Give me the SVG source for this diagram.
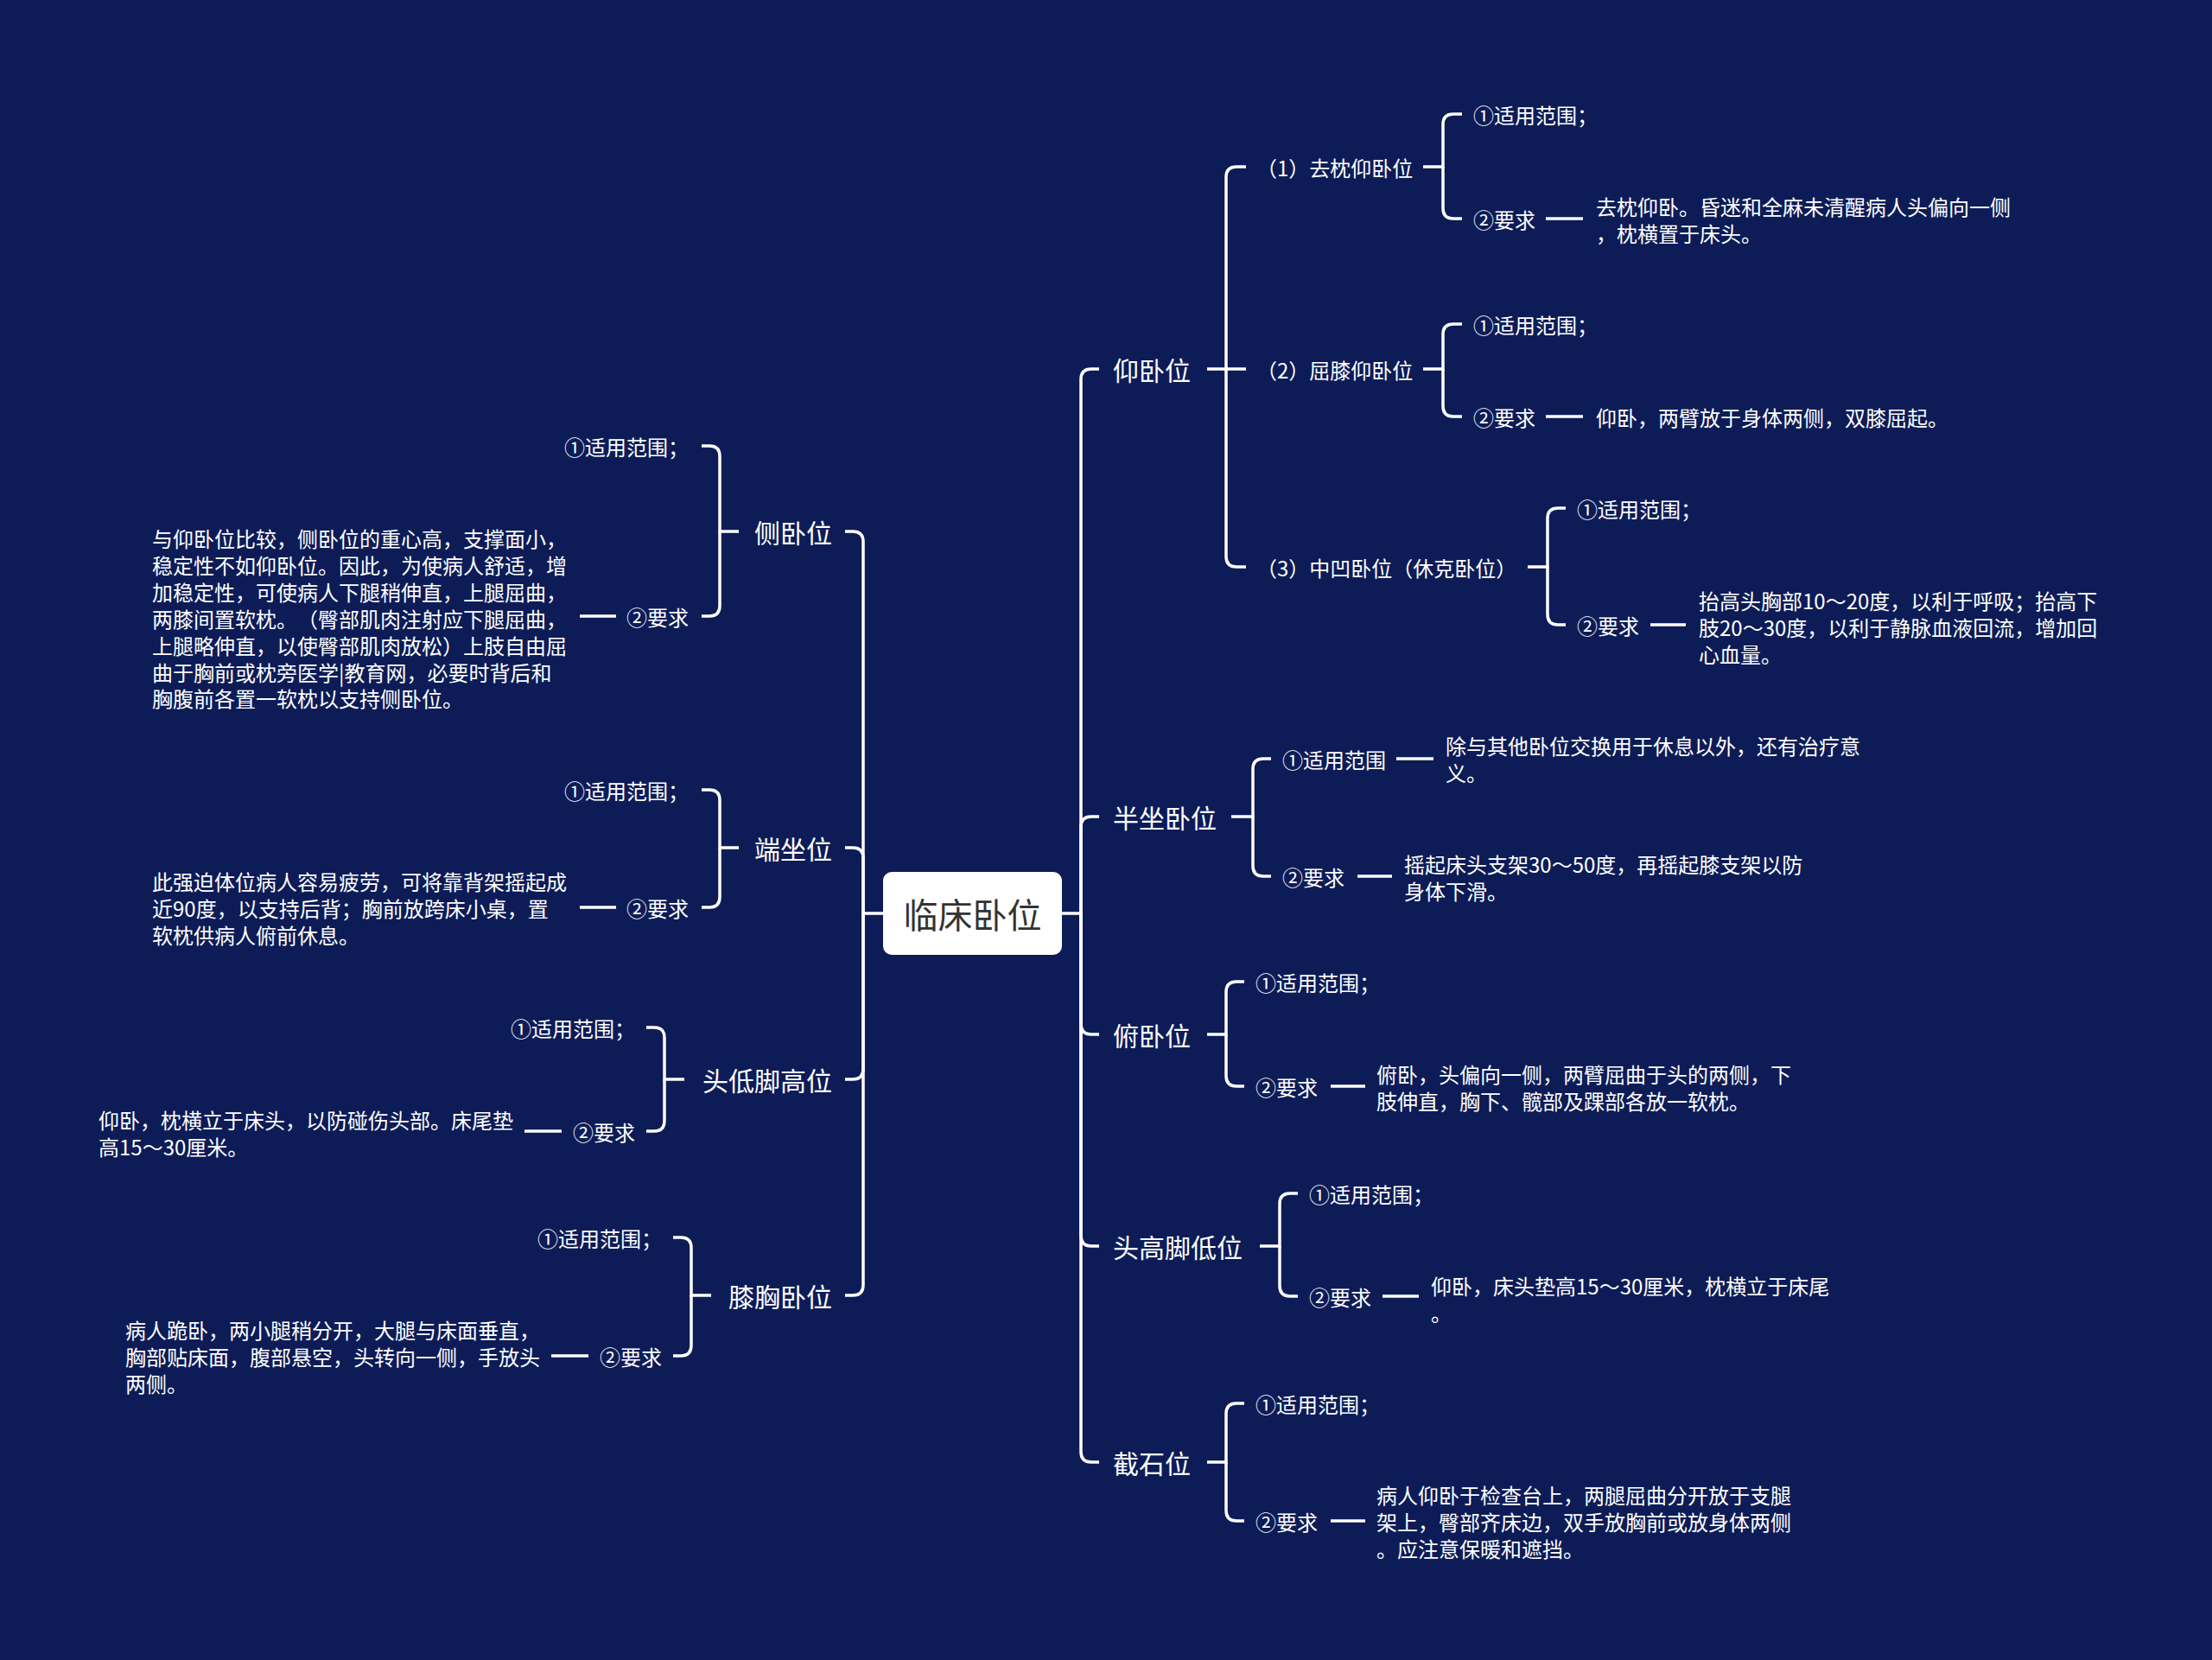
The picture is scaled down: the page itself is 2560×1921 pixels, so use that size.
<svg xmlns="http://www.w3.org/2000/svg" width="2560" height="1921" viewBox="0 0 2560 1921">
<style>
text{font-family:"Noto Sans CJK SC","Microsoft YaHei",sans-serif;fill:#ffffff;dominant-baseline:central;text-spacing-trim:space-all}
.l1{font-size:30px}
.s{font-size:24px}
.e{text-anchor:end}
.root{font-size:40px;fill:#333333;text-anchor:middle}
.c path{fill:none;stroke:#ffffff;stroke-width:3.5;stroke-linecap:butt}
</style>
<rect x="0" y="0" width="2560" height="1921" fill="#0d1c57"/>
<g class="c" id="connectors">
<path d="M1229,1057 H1251 V439 Q1251,427 1263,427 H1272"/>
<path d="M1251,1057 V957 Q1251,945 1263,945 H1272"/>
<path d="M1251,1057 V1185 Q1251,1197 1263,1197 H1272"/>
<path d="M1251,1057 V1430 Q1251,1442 1263,1442 H1272"/>
<path d="M1251,1057 V1680 Q1251,1692 1263,1692 H1272"/>
<path d="M1022,1057 H999 V627 Q999,615 987,615 H978"/>
<path d="M999,1057 V993 Q999,981 987,981 H978"/>
<path d="M999,1057 V1237 Q999,1249 987,1249 H978"/>
<path d="M999,1057 V1487 Q999,1499 987,1499 H978"/>
<path d="M1397,427 H1419 V205 Q1419,193 1431,193 H1442"/>
<path d="M1419,427 H1442"/>
<path d="M1419,427 V644 Q1419,656 1431,656 H1442"/>
<path d="M1647,193 H1670 V144 Q1670,132 1682,132 H1692"/>
<path d="M1670,193 V241 Q1670,253 1682,253 H1692"/>
<path d="M1789,253 H1832"/>
<path d="M1647,427 H1670 V387 Q1670,375 1682,375 H1692"/>
<path d="M1670,427 V470 Q1670,482 1682,482 H1692"/>
<path d="M1789,482 H1832"/>
<path d="M1768,656 H1791 V600 Q1791,588 1803,588 H1812"/>
<path d="M1791,656 V711 Q1791,723 1803,723 H1812"/>
<path d="M1910,723 H1951"/>
<path d="M1425,945 H1450 V890 Q1450,878 1462,878 H1471"/>
<path d="M1450,945 V1002 Q1450,1014 1462,1014 H1471"/>
<path d="M1616,878 H1659"/>
<path d="M1571,1014 H1611"/>
<path d="M1397,1197 H1419 V1148 Q1419,1136 1431,1136 H1440"/>
<path d="M1419,1197 V1245 Q1419,1257 1431,1257 H1440"/>
<path d="M1540,1257 H1580"/>
<path d="M1458,1442 H1481 V1393 Q1481,1381 1493,1381 H1502"/>
<path d="M1481,1442 V1488 Q1481,1500 1493,1500 H1502"/>
<path d="M1600,1500 H1642"/>
<path d="M1397,1692 H1419 V1636 Q1419,1624 1431,1624 H1440"/>
<path d="M1419,1692 V1748 Q1419,1760 1431,1760 H1440"/>
<path d="M1540,1760 H1580"/>
<path d="M855,615 H833 V528 Q833,516 821,516 H812"/>
<path d="M833,615 V701 Q833,713 821,713 H812"/>
<path d="M671,713 H713"/>
<path d="M855,981 H833 V926 Q833,914 821,914 H812"/>
<path d="M833,981 V1038 Q833,1050 821,1050 H812"/>
<path d="M671,1050 H713"/>
<path d="M792,1249 H769 V1201 Q769,1189 757,1189 H748"/>
<path d="M769,1249 V1297 Q769,1309 757,1309 H748"/>
<path d="M607,1309 H650"/>
<path d="M823,1499 H800 V1444 Q800,1432 788,1432 H779"/>
<path d="M800,1499 V1557 Q800,1569 788,1569 H779"/>
<path d="M638,1569 H681"/>
</g>
<g id="root"><rect x="1022" y="1009" width="207" height="96" rx="10" fill="#ffffff"/><text class="root" x="1125.5" y="1057">临床卧位</text></g>
<g id="n-yangwo"><text class="l1" x="1288" y="427">仰卧位</text></g>
<g id="n-qz"><text class="s" x="1454" y="193">（1）去枕仰卧位</text></g>
<g id="n-qz-1"><text class="s" x="1705" y="132">①适用范围；</text></g>
<g id="n-qz-2"><text class="s" x="1705" y="253">②要求</text></g>
<g id="n-qz-2d"><text class="s" x="1847" y="238">去枕仰卧。昏迷和全麻未清醒病人头偏向一侧</text><text class="s" x="1847" y="269">，枕横置于床头。</text></g>
<g id="n-qx"><text class="s" x="1454" y="427">（2）屈膝仰卧位</text></g>
<g id="n-qx-1"><text class="s" x="1705" y="375">①适用范围；</text></g>
<g id="n-qx-2"><text class="s" x="1705" y="482">②要求</text></g>
<g id="n-qx-2d"><text class="s" x="1847" y="482">仰卧，两臂放于身体两侧，双膝屈起。</text></g>
<g id="n-za"><text class="s" x="1454" y="656">（3）中凹卧位（休克卧位）</text></g>
<g id="n-za-1"><text class="s" x="1825" y="588">①适用范围；</text></g>
<g id="n-za-2"><text class="s" x="1825" y="723">②要求</text></g>
<g id="n-za-2d"><text class="s" x="1966" y="694">抬高头胸部10～20度，以利于呼吸；抬高下</text><text class="s" x="1966" y="725">肢20～30度，以利于静脉血液回流，增加回</text><text class="s" x="1966" y="756">心血量。</text></g>
<g id="n-bz"><text class="l1" x="1288" y="945">半坐卧位</text></g>
<g id="n-bz-1"><text class="s" x="1484" y="878">①适用范围</text></g>
<g id="n-bz-1d"><text class="s" x="1673" y="862">除与其他卧位交换用于休息以外，还有治疗意</text><text class="s" x="1673" y="893">义。</text></g>
<g id="n-bz-2"><text class="s" x="1484" y="1014">②要求</text></g>
<g id="n-bz-2d"><text class="s" x="1625" y="999">摇起床头支架30～50度，再摇起膝支架以防</text><text class="s" x="1625" y="1030">身体下滑。</text></g>
<g id="n-fw"><text class="l1" x="1288" y="1197">俯卧位</text></g>
<g id="n-fw-1"><text class="s" x="1453" y="1136">①适用范围；</text></g>
<g id="n-fw-2"><text class="s" x="1453" y="1257">②要求</text></g>
<g id="n-fw-2d"><text class="s" x="1593" y="1242">俯卧，头偏向一侧，两臂屈曲于头的两侧，下</text><text class="s" x="1593" y="1273">肢伸直，胸下、髋部及踝部各放一软枕。</text></g>
<g id="n-tg"><text class="l1" x="1288" y="1442">头高脚低位</text></g>
<g id="n-tg-1"><text class="s" x="1515" y="1381">①适用范围；</text></g>
<g id="n-tg-2"><text class="s" x="1515" y="1500">②要求</text></g>
<g id="n-tg-2d"><text class="s" x="1656" y="1487">仰卧，床头垫高15～30厘米，枕横立于床尾</text><text class="s" x="1656" y="1518">。</text></g>
<g id="n-js"><text class="l1" x="1288" y="1692">截石位</text></g>
<g id="n-js-1"><text class="s" x="1453" y="1624">①适用范围；</text></g>
<g id="n-js-2"><text class="s" x="1453" y="1760">②要求</text></g>
<g id="n-js-2d"><text class="s" x="1593" y="1729">病人仰卧于检查台上，两腿屈曲分开放于支腿</text><text class="s" x="1593" y="1760">架上，臀部齐床边，双手放胸前或放身体两侧</text><text class="s" x="1593" y="1791">。应注意保暖和遮挡。</text></g>
<g id="n-cw"><text class="l1 e" x="963" y="615">侧卧位</text></g>
<g id="n-cw-1"><text class="s e" x="797" y="516">①适用范围；</text></g>
<g id="n-cw-2"><text class="s e" x="797" y="713">②要求</text></g>
<g id="n-cw-2d"><text class="s" x="176" y="622">与仰卧位比较，侧卧位的重心高，支撑面小，</text><text class="s" x="176" y="653">稳定性不如仰卧位。因此，为使病人舒适，增</text><text class="s" x="176" y="684">加稳定性，可使病人下腿稍伸直，上腿屈曲，</text><text class="s" x="176" y="715">两膝间置软枕。（臀部肌肉注射应下腿屈曲，</text><text class="s" x="176" y="746">上腿略伸直，以使臀部肌肉放松）上肢自由屈</text><text class="s" x="176" y="777">曲于胸前或枕旁医学|教育网，必要时背后和</text><text class="s" x="176" y="807">胸腹前各置一软枕以支持侧卧位。</text></g>
<g id="n-dz"><text class="l1 e" x="963" y="981">端坐位</text></g>
<g id="n-dz-1"><text class="s e" x="797" y="914">①适用范围；</text></g>
<g id="n-dz-2"><text class="s e" x="797" y="1050">②要求</text></g>
<g id="n-dz-2d"><text class="s" x="176" y="1019">此强迫体位病人容易疲劳，可将靠背架摇起成</text><text class="s" x="176" y="1050">近90度，以支持后背；胸前放跨床小桌，置</text><text class="s" x="176" y="1081">软枕供病人俯前休息。</text></g>
<g id="n-td"><text class="l1 e" x="963" y="1249">头低脚高位</text></g>
<g id="n-td-1"><text class="s e" x="735" y="1189">①适用范围；</text></g>
<g id="n-td-2"><text class="s e" x="735" y="1309">②要求</text></g>
<g id="n-td-2d"><text class="s" x="114" y="1295">仰卧，枕横立于床头，以防碰伤头部。床尾垫</text><text class="s" x="114" y="1326">高15～30厘米。</text></g>
<g id="n-xx"><text class="l1 e" x="963" y="1499">膝胸卧位</text></g>
<g id="n-xx-1"><text class="s e" x="766" y="1432">①适用范围；</text></g>
<g id="n-xx-2"><text class="s e" x="766" y="1569">②要求</text></g>
<g id="n-xx-2d"><text class="s" x="145" y="1538">病人跪卧，两小腿稍分开，大腿与床面垂直，</text><text class="s" x="145" y="1569">胸部贴床面，腹部悬空，头转向一侧，手放头</text><text class="s" x="145" y="1600">两侧。</text></g>
</svg>
